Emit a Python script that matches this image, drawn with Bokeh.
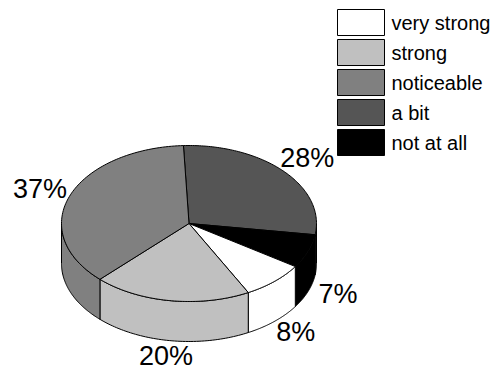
import numpy as np
from bokeh.plotting import figure
from bokeh.models import Range1d, ColumnDataSource
from bokeh.core.properties import value
from bokeh.embed import file_html
from bokeh.resources import INLINE

# ---- data ----
categories = ["very strong", "strong", "noticeable", "a bit", "not at all"]
percent = [8, 20, 37, 28, 7]
colors = ["#ffffff", "#c0c0c0", "#808080", "#555555", "#000000"]
# order in which slices run clockwise from the top of the pie
pie_order = ["a bit", "not at all", "very strong", "strong", "noticeable"]

# ---- geometry (screen-like units, y downward) ----
W, H = 498, 372
CX, CY = 188.5, 223.0
RX, RY = 127.5, 78.0
DEPTH = 40.0
START = 92.5
LABEL_K = 1.25
FONT = "Liberation Sans"

p = figure(width=W, height=H, output_backend="svg", toolbar_location=None,
           x_range=Range1d(0, W), y_range=Range1d(H, 0),
           min_border=0, outline_line_color=None, background_fill_color="white")
p.axis.visible = False
p.grid.visible = False

def pt(t_deg, dy=0.0):
    t = np.radians(t_deg)
    return CX + RX * np.cos(t), CY - RY * np.sin(t) + dy

pct = dict(zip(categories, percent))
col = dict(zip(categories, colors))

slices = []
cum = 0.0
for c in pie_order:
    a0 = START - cum * 3.6
    a1 = a0 - pct[c] * 3.6
    cum += pct[c]
    slices.append((c, a0, a1))

# side walls (front half only: angles in [-180, 0])
wx, wy, wc = [], [], []
for c, a0, a1 in slices:
    hi = min(a0, 0.0)
    lo = max(a1, -180.0)
    if hi <= lo:
        continue
    t = np.linspace(hi, lo, 60)
    xt, yt = pt(t)
    xb, yb = pt(t[::-1], DEPTH)
    wx.append(list(xt) + list(xb))
    wy.append(list(yt) + list(yb))
    wc.append(col[c])
p.patches(xs=wx, ys=wy, fill_color=wc, line_color="black", line_width=1)

# top faces
tx, ty, tc = [], [], []
for c, a0, a1 in slices:
    t = np.linspace(a0, a1, 100)
    xa, ya = pt(t)
    tx.append([CX] + list(xa))
    ty.append([CY] + list(ya))
    tc.append(col[c])
p.patches(xs=tx, ys=ty, fill_color=tc, line_color="black", line_width=1)

# percentage labels
lx, ly, lt = [], [], []
for c, a0, a1 in slices:
    m = np.radians((a0 + a1) / 2)
    x = CX + LABEL_K * RX * np.cos(m)
    y = CY - LABEL_K * RY * np.sin(m)
    if np.sin(m) < 0:
        y += DEPTH * 0.9
    lx.append(x); ly.append(y); lt.append(f"{pct[c]}%")
p.text(x=lx, y=ly, text=lt, text_font=value(FONT), text_font_size="27px",
       text_align="center", text_baseline="middle", text_color="black")

# legend
idx = np.arange(len(categories))
leg = ColumnDataSource(dict(
    left=[337] * len(categories), right=[384] * len(categories),
    top=list(9 + 30 * idx), bottom=list(35 + 30 * idx),
    tx=[391] * len(categories), ty=list(22 + 30 * idx),
    label=categories, color=colors))
p.quad(left="left", right="right", top="top", bottom="bottom", fill_color="color",
       line_color="black", line_width=1, source=leg)
p.text(x="tx", y="ty", text="label", source=leg, text_font=value(FONT),
       text_font_size="20px", text_baseline="middle", text_align="left",
       text_color="black")

open("out.html", "w").write(file_html(p, INLINE))
